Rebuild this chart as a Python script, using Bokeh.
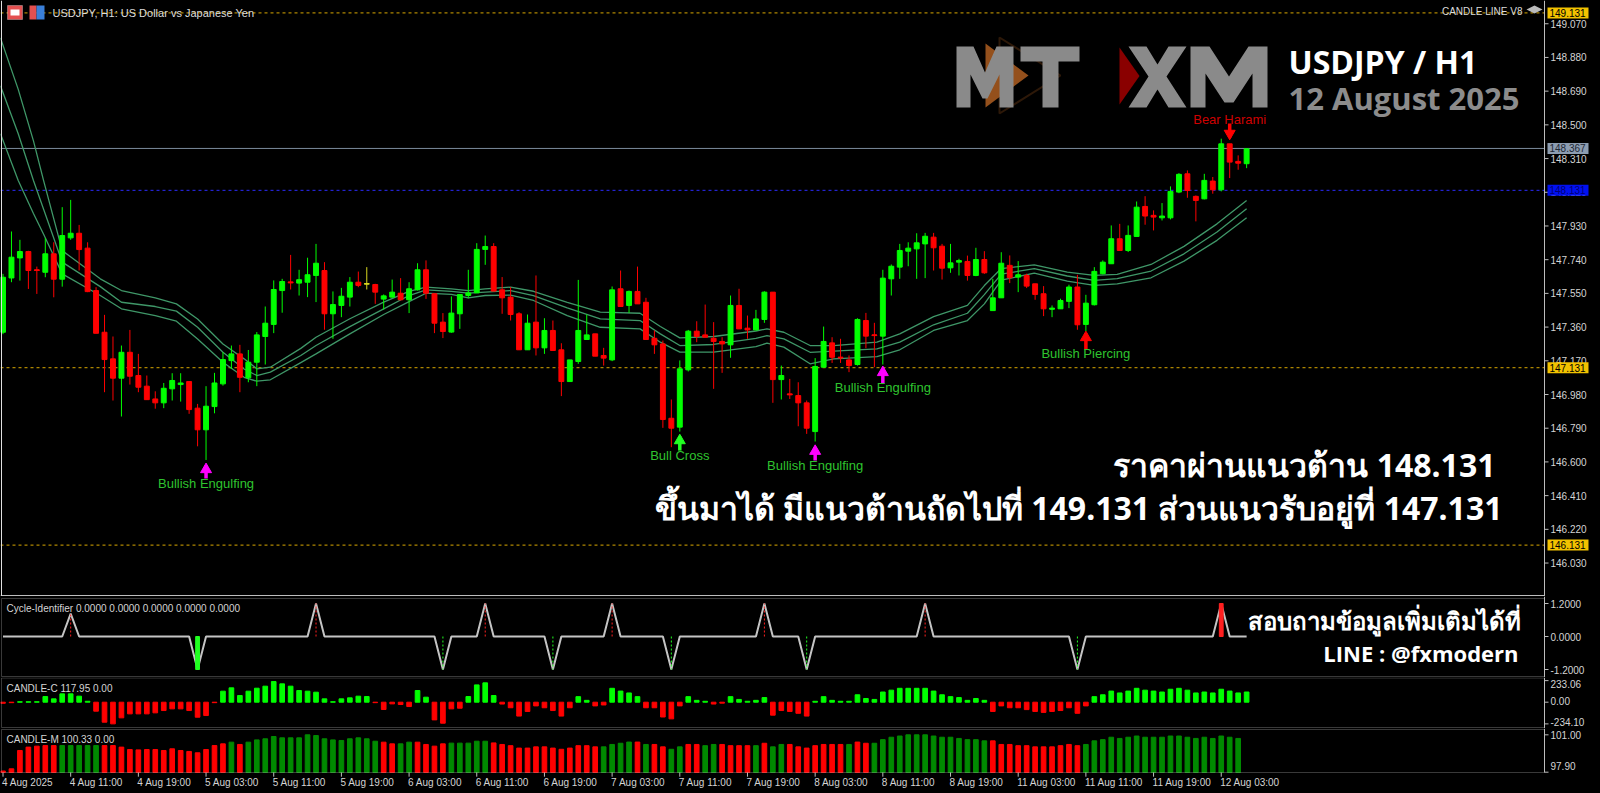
from bokeh.plotting import figure
from bokeh.layouts import column
from bokeh.models import (Range1d, Span, Label, BoxAnnotation, PolyAnnotation, ColumnDataSource)
from bokeh.core.properties import value
from bokeh.embed import file_html
from bokeh.resources import INLINE

# ---------------- data ----------------
opens = [147.331, 147.637, 147.750, 147.786, 147.682, 147.669, 147.773, 147.630, 147.863, 147.889,
         147.805, 147.566, 147.331, 147.181, 147.072, 147.218, 147.087, 147.027, 146.955, 146.933,
         147.012, 147.036, 147.053, 146.903, 146.781, 146.912, 147.040, 147.171, 147.209, 147.074,
         147.162, 147.307, 147.375, 147.566, 147.613, 147.608, 147.613, 147.651, 147.679, 147.435,
         147.482, 147.529, 147.613, 147.604, 147.600, 147.518, 147.529, 147.551, 147.514, 147.570,
         147.683, 147.548, 147.388, 147.332, 147.435, 147.538, 147.553, 147.798, 147.814, 147.570,
         147.529, 147.435, 147.232, 147.388, 147.243, 147.341, 147.232, 147.053, 147.166, 147.290,
         147.322, 147.200, 147.175, 147.576, 147.482, 147.561, 147.500, 147.297, 147.265, 146.846,
         146.796, 147.119, 147.337, 147.316, 147.297, 147.279, 147.260, 147.482, 147.354, 147.344,
         147.403, 147.557, 147.064, 146.982, 146.974, 146.933, 146.771, 147.134, 147.271, 147.189,
         147.175, 147.149, 147.397, 147.315, 147.309, 147.632, 147.698, 147.788, 147.801, 147.829,
         147.867, 147.816, 147.694, 147.726, 147.730, 147.651, 147.741, 147.453, 147.525, 147.708,
         147.642, 147.651, 147.604, 147.548, 147.462, 147.463, 147.505, 147.586, 147.375, 147.486,
         147.661, 147.717, 147.858, 147.792, 147.871, 148.040, 147.990, 147.976, 147.976, 148.121,
         148.224, 148.097, 148.083, 148.183, 148.134, 148.393, 148.294, 148.281]
highs = [147.660, 147.899, 147.852, 147.790, 147.701, 147.861, 147.838, 148.036, 148.077, 147.936,
         147.838, 147.585, 147.429, 147.307, 147.256, 147.344, 147.209, 147.087, 146.998, 147.045,
         147.100, 147.100, 147.053, 146.927, 147.027, 147.102, 147.218, 147.256, 147.260, 147.231,
         147.332, 147.476, 147.623, 147.632, 147.767, 147.683, 147.751, 147.829, 147.726, 147.561,
         147.581, 147.642, 147.673, 147.698, 147.604, 147.544, 147.628, 147.636, 147.613, 147.720,
         147.736, 147.548, 147.439, 147.533, 147.544, 147.683, 147.833, 147.876, 147.833, 147.642,
         147.585, 147.444, 147.431, 147.651, 147.410, 147.397, 147.269, 147.175, 147.626, 147.431,
         147.322, 147.243, 147.589, 147.679, 147.566, 147.701, 147.525, 147.341, 147.284, 146.952,
         147.172, 147.344, 147.393, 147.487, 147.388, 147.303, 147.538, 147.576, 147.425, 147.457,
         147.562, 147.557, 147.143, 147.068, 147.049, 146.946, 147.185, 147.363, 147.303, 147.294,
         147.200, 147.410, 147.440, 147.384, 147.683, 147.713, 147.829, 147.838, 147.889, 147.891,
         147.891, 147.829, 147.829, 147.745, 147.763, 147.807, 147.788, 147.632, 147.782, 147.764,
         147.732, 147.661, 147.604, 147.591, 147.482, 147.520, 147.599, 147.655, 147.542, 147.698,
         147.736, 147.933, 147.942, 147.933, 148.068, 148.098, 148.018, 148.059, 148.153, 148.228,
         148.243, 148.102, 148.224, 148.206, 148.422, 148.393, 148.328, 148.365]
lows = [147.320, 147.613, 147.622, 147.575, 147.547, 147.641, 147.528, 147.588, 147.852, 147.679,
        147.557, 147.325, 146.993, 146.946, 146.856, 147.036, 146.993, 146.951, 146.900, 146.903,
        146.946, 146.940, 146.871, 146.688, 146.611, 146.874, 147.030, 147.124, 146.993, 147.049,
        147.027, 147.149, 147.326, 147.441, 147.572, 147.538, 147.529, 147.501, 147.345, 147.294,
        147.416, 147.476, 147.585, 147.572, 147.491, 147.459, 147.525, 147.510, 147.439, 147.566,
        147.519, 147.326, 147.298, 147.328, 147.350, 147.523, 147.553, 147.711, 147.563, 147.435,
        147.397, 147.232, 147.232, 147.200, 147.209, 147.228, 146.971, 147.053, 147.153, 147.290,
        147.196, 147.143, 147.168, 147.476, 147.440, 147.491, 147.290, 147.209, 146.792, 146.683,
        146.771, 147.110, 147.275, 147.303, 147.012, 147.102, 147.187, 147.350, 147.294, 147.341,
        147.384, 146.933, 146.952, 146.955, 146.801, 146.758, 146.715, 147.134, 147.158, 147.158,
        147.106, 147.143, 147.241, 147.134, 147.149, 147.538, 147.632, 147.703, 147.632, 147.636,
        147.679, 147.628, 147.666, 147.651, 147.622, 147.647, 147.660, 147.453, 147.525, 147.608,
        147.557, 147.580, 147.514, 147.422, 147.416, 147.463, 147.467, 147.345, 147.337, 147.482,
        147.657, 147.717, 147.792, 147.783, 147.871, 147.937, 147.905, 147.961, 147.967, 148.115,
        148.089, 147.956, 148.080, 148.112, 148.125, 148.200, 148.247, 148.256]
closes = [147.641, 147.754, 147.786, 147.679, 147.679, 147.773, 147.630, 147.876, 147.889, 147.797,
          147.560, 147.325, 147.177, 147.072, 147.218, 147.083, 147.021, 146.951, 146.933, 147.015,
          147.059, 147.045, 146.895, 146.781, 146.914, 147.045, 147.177, 147.209, 147.077, 147.162,
          147.316, 147.382, 147.572, 147.617, 147.609, 147.627, 147.655, 147.720, 147.435, 147.487,
          147.534, 147.613, 147.595, 147.604, 147.557, 147.536, 147.557, 147.514, 147.576, 147.683,
          147.551, 147.382, 147.335, 147.439, 147.544, 147.553, 147.798, 147.814, 147.563, 147.525,
          147.431, 147.232, 147.382, 147.243, 147.341, 147.228, 147.053, 147.175, 147.341, 147.316,
          147.196, 147.185, 147.570, 147.476, 147.561, 147.491, 147.290, 147.260, 146.839, 146.790,
          147.125, 147.337, 147.307, 147.303, 147.279, 147.265, 147.482, 147.350, 147.344, 147.406,
          147.557, 147.064, 147.087, 146.978, 146.933, 146.790, 147.138, 147.279, 147.190, 147.186,
          147.143, 147.403, 147.309, 147.312, 147.636, 147.703, 147.792, 147.805, 147.835, 147.872,
          147.807, 147.692, 147.722, 147.735, 147.651, 147.741, 147.666, 147.525, 147.720, 147.638,
          147.655, 147.591, 147.544, 147.463, 147.467, 147.510, 147.586, 147.373, 147.495, 147.674,
          147.726, 147.858, 147.792, 147.877, 148.036, 147.986, 147.980, 147.986, 148.125, 148.221,
          148.130, 148.074, 148.187, 148.134, 148.393, 148.290, 148.284, 148.365]

# moving-average band (three lines), sampled at bar positions
ma_x = [-0.3, 1.8, 3.6, 4.8, 7, 11.5, 14, 18, 20.5, 23, 26, 28.5, 30, 31.6, 35.2, 37, 41, 45, 48,
        50, 53, 55, 57, 60, 62.7, 66.7, 70.6, 75.3, 77.7, 80, 84, 89, 90.3, 92.3, 95.4, 98.2,
        103.3, 106, 110, 114, 116, 118, 121.9, 125.8, 129, 131.7, 135.7, 139.6, 143.5, 147]
ma_upper = [148.99, 148.70, 148.41, 148.186, 147.791, 147.632, 147.566, 147.525, 147.491, 147.406,
            147.265, 147.181, 147.125, 147.134, 147.24, 147.303, 147.407, 147.501, 147.561,
            147.585, 147.576, 147.566, 147.576, 147.585, 147.562, 147.500, 147.444, 147.438, 147.363,
            147.299, 147.307, 147.338, 147.350, 147.331, 147.256, 147.256,
            147.275, 147.322, 147.419, 147.482, 147.594, 147.690, 147.711, 147.670, 147.651, 147.657,
            147.713, 147.815, 147.942, 148.074]
ma_mid = [148.72, 148.45, 148.186, 148.024, 147.726, 147.588, 147.500, 147.476, 147.450, 147.359,
          147.218, 147.124, 147.087, 147.106, 147.20, 147.256, 147.363, 147.463, 147.538,
          147.570, 147.561, 147.551, 147.557, 147.566, 147.538, 147.468, 147.406, 147.397, 147.322,
          147.256, 147.262, 147.297, 147.312, 147.294, 147.218, 147.224,
          147.237, 147.275, 147.373, 147.438, 147.543, 147.659, 147.689, 147.648, 147.623, 147.633,
          147.676, 147.773, 147.896, 148.027]
ma_lower = [148.45, 148.186, 148.00, 147.883, 147.660, 147.538, 147.463, 147.425, 147.393, 147.293,
            147.162, 147.077, 147.055, 147.063, 147.16, 147.209, 147.322, 147.431, 147.504,
            147.551, 147.544, 147.525, 147.538, 147.540, 147.510, 147.425, 147.359, 147.350, 147.275,
            147.219, 147.219, 147.250, 147.269, 147.247, 147.153, 147.181,
            147.194, 147.232, 147.341, 147.397, 147.491, 147.625, 147.664, 147.619, 147.595, 147.604,
            147.638, 147.732, 147.849, 147.976]

level_prices = [149.131, 148.367, 148.131, 147.131, 146.131]
price_ticks = [149.070, 148.880, 148.690, 148.500, 148.310, 148.120, 147.930, 147.740, 147.550,
               147.360, 147.170, 146.980, 146.790, 146.600, 146.410, 146.220, 146.030]
time_tick_bars = [0, 8, 16, 24, 32, 40, 48, 56, 64, 72, 80, 88, 96, 104, 112, 120, 128, 136, 144]
time_tick_labels = ["4 Aug 2025", "4 Aug 11:00", "4 Aug 19:00", "5 Aug 03:00", "5 Aug 11:00",
                    "5 Aug 19:00", "6 Aug 03:00", "6 Aug 11:00", "6 Aug 19:00", "7 Aug 03:00",
                    "7 Aug 11:00", "7 Aug 19:00", "8 Aug 03:00", "8 Aug 11:00", "8 Aug 19:00",
                    "11 Aug 03:00", "11 Aug 11:00", "11 Aug 19:00", "12 Aug 03:00"]

pat_bars = [24, 80, 96, 104, 128, 145]
pat_names = ["Bullish Engulfing", "Bull Cross", "Bullish Engulfing", "Bullish Engulfing",
             "Bullish Piercing", "Bear Harami"]
pat_label_y = [146.478, 146.636, 146.580, 147.019, 147.211, 148.530]
pat_arrow_tip = [146.580, 146.743, 146.683, 147.127, 147.324, 148.429]
pat_arrow_tail = [146.507, 146.664, 146.608, 147.042, 147.234, 148.508]
pat_arrow_color = ["#ff00ff", "#22ff22", "#ff00ff", "#ff00ff", "#ff0000", "#ff0000"]
pat_text_color = ["#2fc42f", "#2fc42f", "#2fc42f", "#2fc42f", "#2fc42f", "#d00000"]

cycle_peak_bars = [8, 37, 57, 72, 90, 109, 144]
cycle_peak_vals = [0.83, 1.2, 1.2, 1.2, 1.2, 1.2, 1.2]
cycle_trough_bars = [23, 52, 65, 79, 95, 127]
cycle_trough_vals = [-1.2, -1.2, -1.2, -1.2, -1.2, -1.2]
cycle_strong_bars = [23, 144]
cycle_ticks = [1.2, 0.0, -1.2]
cycle_tick_labels = ["1.2000", "0.0000", "-1.2000"]

candle_c = [-12, -5, 5, 5, 5, 61, 36, 90, 90, 65,
            10, -97, -216, -234, -169, -126, -126, -126, -115, -90,
            -72, -72, -90, -162, -144, -5, 119, 155, 72, 119,
            151, 173, 223, 198, 173, 126, 119, 108, 36, 5,
            36, 47, 65, 61, -5, -79, -18, -25, -47, 126,
            54, -191, -227, -72, -65, 61, 187, 209, 72, -20,
            -60, -150, -100, -40, -60, -90, -150, -60, 60, 20,
            -40, -30, 150, 120, 100, 60, -60, -60, -160, -180,
            -40, 60, 20, 10, -20, -10, 60, 30, 10, 20,
            50, -140, -90, -100, -120, -150, 10, 60, 20, 10,
            10, 80, 40, 30, 110, 130, 150, 150, 150, 150,
            120, 80, 60, 50, 20, 40, 20, -100, -40, -60,
            -60, -80, -100, -110, -100, -90, -60, -120, -40, 60,
            80, 120, 100, 120, 150, 130, 120, 110, 140, 150,
            130, 100, 110, 100, 140, 120, 100, 110]
cc_ticks = [233.06, 0.0, -234.10]
cc_tick_labels = ["233.06", "0.00", "-234.10"]
candle_m = [98.00, 98.18, 99.70, 99.98, 100.06, 100.11, 100.11, 100.11, 100.11, 100.11,
            100.11, 100.11, 100.11, 100.11, 99.98, 99.78, 99.75, 99.78, 99.78, 99.70,
            99.84, 99.70, 99.62, 99.51, 99.78, 100.11, 100.25, 100.39, 100.20, 100.39,
            100.58, 100.67, 100.86, 100.75, 100.75, 100.75, 101.00, 100.94, 100.67, 100.58,
            100.53, 100.67, 100.75, 100.67, 100.47, 100.39, 100.25, 100.25, 100.39, 100.39,
            100.20, 100.06, 100.25, 100.31, 100.31, 100.31, 100.47, 100.47, 100.33, 100.20,
            100.10, 99.90, 99.90, 100.00, 100.00, 99.90, 99.80, 99.90, 100.10, 100.10,
            100.00, 100.00, 100.20, 100.30, 100.40, 100.40, 100.20, 100.20, 100.00, 99.80,
            100.00, 100.20, 100.20, 100.10, 100.20, 100.20, 100.10, 100.10, 100.10, 100.10,
            100.30, 100.00, 100.20, 100.20, 100.00, 99.90, 100.10, 100.20, 100.20, 100.20,
            100.20, 100.40, 100.30, 100.30, 100.60, 100.80, 100.90, 101.00, 101.00, 101.00,
            100.90, 100.80, 100.80, 100.70, 100.60, 100.60, 100.50, 100.50, 100.20, 100.20,
            100.10, 100.10, 100.00, 100.00, 100.00, 100.10, 100.20, 100.10, 100.20, 100.50,
            100.60, 100.80, 100.70, 100.80, 100.90, 100.80, 100.80, 100.80, 100.90, 100.90,
            100.80, 100.70, 100.80, 100.70, 100.90, 100.80, 100.70, 100.70]
candle_m_dir = ("RRRRRRRGGGGGRRRRRRRRRRRRRRRGRGGGGGGGGGGGGGGGGRRGGRRRRGGGGG"
                "RRRRRRRRRRRRRGGGGRGRRGGRRGGRRRRGRGGRRRRRRRGRRGGGGGGGGGGGGGG"
                "RRRRRRRRRRRGGGGGGGGGGGGGGGGGGG")
cm_ticks = [101.0, 97.9]
cm_tick_labels = ["101.00", "97.90"]

# ---------------- layout constants (pixels) ----------------
N = len(opens)
idx = list(range(N))
W = 1600
RB = 56
H1, H2, H3, H4 = 596, 81, 51, 65
BAR0, BARW = 2.5, 8.46          # pixel position of first bar, pixels per bar
FONT = "Liberation Sans"
AXC = "#bdbdbd"
LBLC = "#d4d4d4"
GOLD = "#d9a800"
YTOP, YBOT = 149.201, 149.201 - H1 / 177.4


def bx(px):
    """horizontal pixel -> bar coordinate"""
    return (px - BAR0) / BARW


XR = Range1d(bx(0), bx(W))
AXX = bx(W - RB)


def make_fig(h, y0, y1):
    p = figure(width=W, height=h, x_range=XR, y_range=Range1d(y0, y1), output_backend="svg",
               toolbar_location=None, x_axis_location=None, y_axis_location=None, min_border=0,
               background_fill_color="black", border_fill_color="black", outline_line_color=None)
    p.grid.visible = False
    return p


def right_axis(p, ticks, labels, offsets=None, span=None):
    n = len(ticks)
    if span is None:
        p.add_layout(Span(location=AXX, dimension="height", line_color=AXC, line_width=1))
    else:
        p.segment(x0=[AXX], x1=[AXX], y0=[span[0]], y1=[span[1]], line_color=AXC, line_width=1)
    p.segment(x0=[AXX] * n, x1=[bx(W - RB + 4)] * n, y0=ticks, y1=ticks, line_color=AXC,
              line_width=1)
    p.text(x=[bx(W - RB + 6)] * n, y=ticks, text=labels, text_color=LBLC, text_font=value(FONT),
           text_font_size="10px", text_align="left", text_baseline="middle",
           y_offset=offsets if offsets is not None else 0)


def panel_box(p, top, bottom):
    p.add_layout(BoxAnnotation(left=bx(1), right=AXX, top=top, bottom=bottom, fill_color=None,
                               fill_alpha=0, line_color=AXC, line_width=1))


# ---------------- main price panel ----------------
p1 = make_fig(H1, YBOT, YTOP)
p1.add_layout(Span(location=bx(1), dimension="height", line_color="#e0e0e0", line_width=1))
p1.segment(x0=[bx(0)], x1=[AXX], y0=[YTOP - 595 / 177.4], y1=[YTOP - 595 / 177.4],
           line_color=AXC, line_width=1)

level_colors = [GOLD, "#7b8b9c", "#2a2aff", GOLD, GOLD]
level_dash = ["3 3", "solid", "3 3", "3 3", "3 3"]
for lv, lc, ld in zip(level_prices, level_colors, level_dash):
    p1.segment(x0=[bx(0)], x1=[AXX], y0=[lv], y1=[lv], line_color=lc, line_dash=ld, line_width=1)

p1.line(ma_x, ma_upper, line_color="#3f9768", line_width=1.3)
p1.line(ma_x, ma_mid, line_color="#3f9768", line_width=1.3)
p1.line(ma_x, ma_lower, line_color="#3f9768", line_width=1.3)

cols = ["#00ff00" if c > o else ("#ff0000" if c < o else "#d8d820") for o, c in zip(opens, closes)]
src = ColumnDataSource(dict(x=idx, h=highs, l=lows, col=cols,
                            top=[max(o, c) for o, c in zip(opens, closes)],
                            bot=[min(o, c) for o, c in zip(opens, closes)]))
p1.segment(x0="x", y0="h", x1="x", y1="l", line_color="col", line_width=1, source=src)
p1.vbar(x="x", top="top", bottom="bot", width=0.58, fill_color="col", line_color="col",
        line_width=1, source=src)
doji = [i for i in idx if abs(closes[i] - opens[i]) < 0.006]
p1.segment(x0=[i - 0.3 for i in doji], x1=[i + 0.3 for i in doji], y0=[opens[i] for i in doji],
           y1=[opens[i] for i in doji], line_color=[cols[i] for i in doji], line_width=1.5)

# pattern arrows & labels
PPX = 1 / 177.4
p1.segment(x0=pat_bars, x1=pat_bars, y0=pat_arrow_tip, y1=pat_arrow_tail,
           line_color=pat_arrow_color, line_width=3.5)
head_y = [(tip - 4 * PPX) if (tip > tl) else (tip + 4 * PPX)
          for tip, tl in zip(pat_arrow_tip, pat_arrow_tail)]
markers = ["triangle" if tip > tl else "inverted_triangle"
           for tip, tl in zip(pat_arrow_tip, pat_arrow_tail)]
p1.scatter(x=pat_bars, y=head_y, marker=markers, size=11, fill_color=pat_arrow_color,
           line_color=pat_arrow_color)
p1.text(x=pat_bars, y=pat_label_y, text=pat_names, text_color=pat_text_color,
        text_font=value(FONT), text_font_size="13px", text_align="center", text_baseline="middle")

# price axis with level boxes
right_axis(p1, price_ticks, [f"{t:.3f}" for t in price_ticks])
box_bg = ["#f2c200", "#8c9cb0", "#0010f0", "#f2c200", "#f2c200"]
box_fg = ["#000000", "#1c2633", "#000078", "#000000", "#000000"]
p1.rect(x=[bx(W - RB + 23.5)] * len(level_prices), y=level_prices, width=41, height=11,
        width_units="screen", height_units="screen", fill_color=box_bg, line_color=None)
p1.text(x=[bx(W - RB + 5)] * len(level_prices), y=level_prices,
        text=[f"{v:.3f}" for v in level_prices], text_color=box_fg, text_font=value(FONT),
        text_font_size="10px", text_align="left", text_baseline="middle")


def ms(y):
    return H1 - y


def sbox(l, r, t, b, color, lc=None):
    p1.add_layout(BoxAnnotation(left=l, right=r, top=ms(t), bottom=ms(b), left_units="screen",
                                right_units="screen", top_units="screen", bottom_units="screen",
                                fill_color=color, fill_alpha=1, line_color=lc))


def spoly(xs, ys, fill, line=None, lw=1, alpha=1):
    p1.add_layout(PolyAnnotation(xs=xs, ys=[ms(y) for y in ys], xs_units="screen",
                                 ys_units="screen", fill_color=fill, fill_alpha=alpha,
                                 line_color=line, line_width=lw))


# header
sbox(7, 22, 5, 19, "#e45050", "#ffffff")
sbox(10, 19, 9, 15, "#ffffff")
sbox(29, 36, 5, 19, "#e45050")
sbox(36, 44, 5, 19, "#3a7fd8")
p1.add_layout(Label(x=52, y=ms(12), x_units="screen", y_units="screen",
                    text="USDJPY, H1:  US Dollar vs Japanese Yen", text_font=FONT,
                    text_font_size="11px", text_color="#dcdcdc", text_baseline="middle"))
p1.add_layout(Label(x=1522, y=ms(11), x_units="screen", y_units="screen",
                    text="CANDLE LINE V8", text_font=FONT, text_font_size="10px",
                    text_color="#dcdcdc", text_baseline="middle", text_align="right"))
spoly([1526, 1534, 1542, 1534], [9, 5, 9, 13], "#bbbbbb")

# logos (MT and XM)
LG = "#8a8a8a"
spoly([985, 985, 1028], [43, 107, 75], "#94501c")
spoly([999, 999, 1060], [37, 113, 75], None, "#94501c", 2, 0)
spoly([956, 956, 973, 984.5, 996, 1013, 1013, 999, 999, 987, 982, 970, 970],
      [107, 46, 46, 72, 46, 46, 107, 107, 74, 98, 98, 74, 107], LG)
spoly([1020, 1079, 1079, 1058, 1058, 1042, 1042, 1020],
      [46, 46, 61, 61, 107, 107, 61, 61], LG)
spoly([1119, 1119, 1139], [47, 104, 75.5], "#8a0000")
spoly([1128, 1146, 1157, 1168, 1186, 1166, 1186, 1168, 1157, 1146, 1128, 1148],
      [46, 46, 64, 46, 46, 76, 107, 107, 89, 107, 107, 76], LG)
spoly([1190, 1190, 1209, 1228.5, 1248, 1267, 1267, 1252, 1252, 1233, 1224, 1205, 1205],
      [107, 46, 46, 76, 46, 46, 107, 107, 73, 102, 102, 73, 107], LG)

# title
p1.add_layout(Label(x=1288, y=ms(61), x_units="screen", y_units="screen", text="USDJPY / H1",
                    text_font="Open Sans", text_font_style="bold", text_font_size="32px",
                    text_color="#ffffff", text_baseline="middle"))
p1.add_layout(Label(x=1288, y=ms(97), x_units="screen", y_units="screen",
                    text="12 August 2025", text_font="Open Sans", text_font_style="bold",
                    text_font_size="31px", text_color="#8c8c8c", text_baseline="middle"))

# Thai commentary
p1.add_layout(Label(x=1495, y=ms(464), x_units="screen", y_units="screen",
                    text="ราคาผ่านแนวต้าน 148.131", text_font="Noto Sans",
                    text_font_style="bold", text_font_size="32px", text_color="#ffffff",
                    text_align="right", text_baseline="middle"))
p1.add_layout(Label(x=1502, y=ms(507), x_units="screen", y_units="screen",
                    text="ขึ้นมาได้ มีแนวต้านถัดไปที่ 149.131 ส่วนแนวรับอยู่ที่ 147.131",
                    text_font="Noto Sans", text_font_style="bold", text_font_size="32px",
                    text_color="#ffffff", text_align="right", text_baseline="middle"))

# ---------------- cycle identifier panel (pixels 596..677) ----------------
p2 = make_fig(H2, -41 / 27.5, 40 / 27.5)
panel_box(p2, 38 / 27.5, -40 / 27.5)
right_axis(p2, cycle_ticks, cycle_tick_labels)
cyc = [0.0] * N
for b, v in zip(cycle_peak_bars + cycle_trough_bars, cycle_peak_vals + cycle_trough_vals):
    cyc[b] = v
p2.line(idx, cyc, line_color="#c4c4c4", line_width=2)
for bars, vals, col in [(cycle_peak_bars, cycle_peak_vals, "#ff2020"),
                        (cycle_trough_bars, cycle_trough_vals, "#20ff20")]:
    wb = [b for b in bars if b not in cycle_strong_bars]
    wv = [v for b, v in zip(bars, vals) if b not in cycle_strong_bars]
    p2.segment(x0=wb, x1=wb, y0=[0] * len(wb), y1=wv, line_color=col, line_dash="2 2", line_width=1)
    sb = [b for b in bars if b in cycle_strong_bars]
    sv = [v for b, v in zip(bars, vals) if b in cycle_strong_bars]
    p2.vbar(x=sb, top=sv, bottom=0, width=0.45, fill_color=col, line_color=col)
F2 = 677
p2.add_layout(Label(x=6, y=F2 - 608, x_units="screen", y_units="screen",
                    text="Cycle-Identifier 0.0000 0.0000 0.0000 0.0000 0.0000", text_font=FONT,
                    text_font_size="10px", text_color=LBLC, text_baseline="middle"))
p2.add_layout(Label(x=1520, y=F2 - 620, x_units="screen", y_units="screen",
                    text="สอบถามข้อมูลเพิ่มเติมได้ที่", text_font="Noto Sans", text_font_style="bold",
                    text_font_size="24px", text_color="#ffffff", text_align="right",
                    text_baseline="middle"))
p2.add_layout(Label(x=1518, y=F2 - 652, x_units="screen", y_units="screen",
                    text="LINE : @fxmodern", text_font="Open Sans", text_font_style="bold",
                    text_font_size="22px", text_color="#ffffff", text_align="right",
                    text_baseline="middle"))

# ---------------- CANDLE-C panel (pixels 677..728) ----------------
p3 = make_fig(H3, -26.3 * 10.8, 24.7 * 10.8)
panel_box(p3, 24.2 * 10.8, -25.3 * 10.8)
right_axis(p3, cc_ticks, cc_tick_labels, [3, -1, -2])
ccol = ["#00ff00" if v > 0 else "#ff0000" for v in candle_c]
p3.vbar(x=idx, top=candle_c, bottom=0, width=0.55, fill_color=ccol, line_color=ccol, line_width=1)
p3.add_layout(Label(x=6, y=728 - 688, x_units="screen", y_units="screen",
                    text="CANDLE-C 117.95 0.00", text_font=FONT, text_font_size="10px",
                    text_color=LBLC, text_baseline="middle"))

# ---------------- CANDLE-M panel + time axis (pixels 728..793) ----------------
MPX = 12.06                      # pixels per CANDLE-M unit
CM_FLOOR = 97.9 - 0.3 / MPX      # panel floor (pixel 772)
p4 = make_fig(H4, 97.9 - 21.3 / MPX, 97.9 + 43.7 / MPX)
panel_box(p4, 97.9 + 42.7 / MPX, CM_FLOOR)
right_axis(p4, cm_ticks, cm_tick_labels, [0, -6], span=(CM_FLOOR, 97.9 + 43.7 / MPX))
mcol = ["#008a00" if d == "G" else "#ff0000" for d in candle_m_dir]
p4.vbar(x=idx, top=candle_m, bottom=CM_FLOOR, width=0.55, fill_color=mcol, line_color=mcol)
p4.add_layout(Label(x=6, y=H4 - 11, x_units="screen", y_units="screen",
                    text="CANDLE-M 100.33 0.00", text_font=FONT, text_font_size="10px",
                    text_color=LBLC, text_baseline="middle"))
# time axis under the last panel
nt = len(time_tick_bars)
p4.segment(x0=time_tick_bars, x1=time_tick_bars, y0=[CM_FLOOR] * nt,
           y1=[97.9 - 4.5 / MPX] * nt, line_color=AXC, line_width=1)
p4.text(x=time_tick_bars, y=[97.9 - 10.5 / MPX] * nt, text=time_tick_labels, x_offset=-1,
        text_color=LBLC, text_font=value(FONT), text_font_size="10px", text_align="left",
        text_baseline="middle")

layout = column(p1, p2, p3, p4, spacing=0)
html = file_html(layout, INLINE)
html = html.replace("</head>", "<style>html,body{background:#000000;}</style></head>", 1)
open("out.html", "w").write(html)
